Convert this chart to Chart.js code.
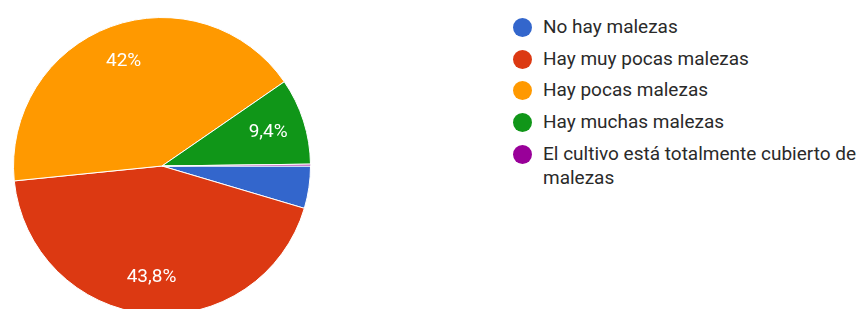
<!DOCTYPE html>
<html>
<head>
<meta charset="utf-8">
<script src="https://cdn.jsdelivr.net/npm/chart.js@4.4.0/dist/chart.umd.min.js"></script>
<style>
  html, body { margin: 0; padding: 0; background: #fff; overflow: hidden; width: 859px; height: 309px; }
  #pie-box { position: absolute; left: 13px; top: 17px; width: 298px; height: 298px; }
  #legend { position: absolute; left: 513px; top: 15px; margin: 0; padding: 0; list-style: none;
    font-family: Roboto, Arial, sans-serif; font-size: 19px; color: #2a2a2a; }
  #legend li { position: relative; padding-left: 30px; line-height: 24px; margin-bottom: 7.7px; width: 330px; }
  #legend .dot { position: absolute; left: 0; top: 3px; width: 19px; height: 19px; border-radius: 50%; }
</style>
</head>
<body>
<div id="pie-box"><canvas id="pie"></canvas></div>
<ul id="legend"></ul>
<script>
const labels = ['No hay malezas', 'Hay muy pocas malezas', 'Hay pocas malezas', 'Hay muchas malezas', 'El cultivo está totalmente cubierto de malezas']
const values = [4.6, 43.8, 42, 9.4, 0.2]
const colors = ['#3366cc', '#dc3912', '#ff9900', '#109618', '#990099']
const minLabelPct = 5

// percent text inside slices, placed like google charts (about 3/4 of radius)
const sliceLabels = {
    id: 'sliceLabels',
    afterDatasetsDraw(chart) {
        const c = chart.ctx
        const meta = chart.getDatasetMeta(0)
        c.save()
        c.font = '19px Roboto, Arial, sans-serif'
        c.fillStyle = '#fff'
        c.textAlign = 'center'
        c.textBaseline = 'middle'
        meta.data.forEach(function(arc, i) {
            if (values[i] < minLabelPct) return
            const p = arc.getProps(['x', 'y', 'startAngle', 'endAngle', 'outerRadius'], true)
            const mid = (p.startAngle + p.endAngle) / 2
            const r = p.outerRadius * 0.75
            const txt = String(values[i]).replace('.', ',') + '%'
            c.fillText(txt, p.x + Math.cos(mid) * r, p.y + Math.sin(mid) * r)
        })
        c.restore()
    }
}

new Chart(document.getElementById('pie'), {
    type: 'pie',
    data: {
        labels: labels,
        datasets: [{
            data: values,
            backgroundColor: colors,
            borderColor: '#fff',
            borderWidth: 1
        }]
    },
    options: {
        responsive: true,
        maintainAspectRatio: false,
        animation: false,
        rotation: 90,
        layout: { padding: 0 },
        plugins: {
            legend: { display: false },
            tooltip: { enabled: false }
        }
    },
    plugins: [sliceLabels]
})

const legend = document.getElementById('legend')
labels.forEach(function(name, i) {
    const li = document.createElement('li')
    const dot = document.createElement('span')
    dot.className = 'dot'
    dot.style.background = colors[i]
    li.appendChild(dot)
    li.appendChild(document.createTextNode(name))
    legend.appendChild(li)
})
</script>
</body>
</html>
